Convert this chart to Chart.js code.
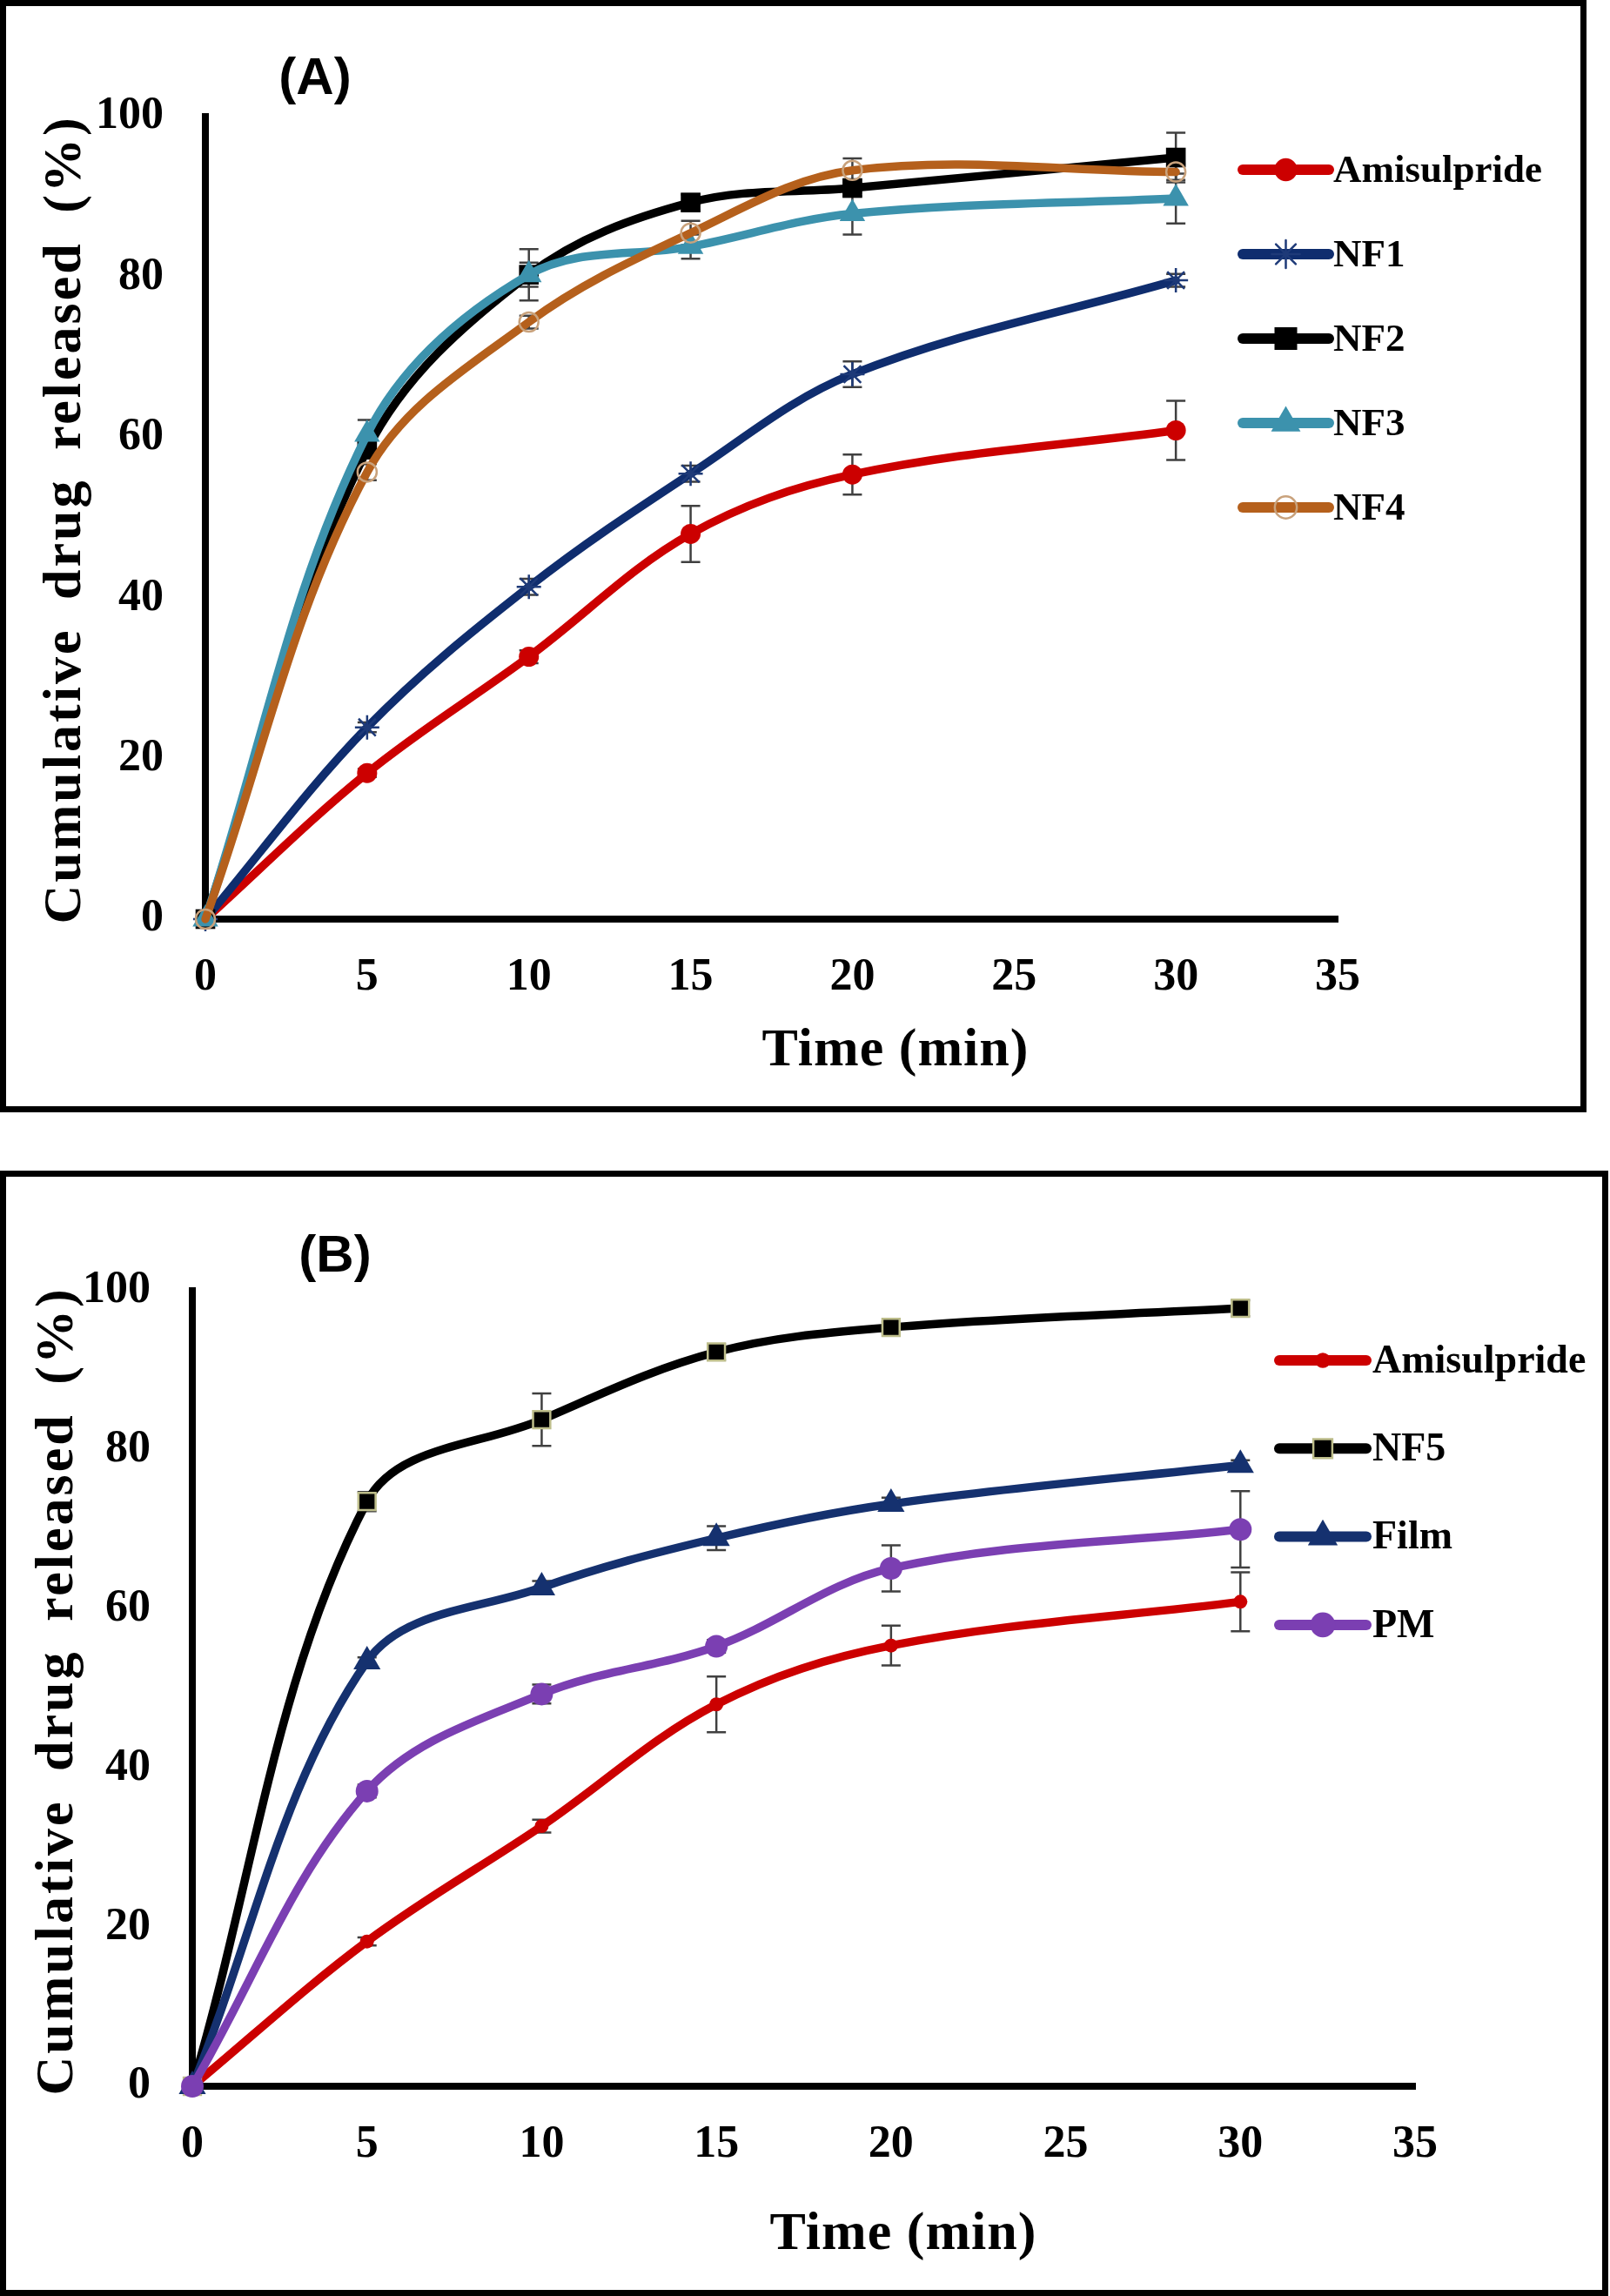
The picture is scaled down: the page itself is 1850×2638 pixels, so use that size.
<!DOCTYPE html>
<html>
<head>
<meta charset="utf-8">
<title>Cumulative drug release</title>
<script src="https://cdn.jsdelivr.net/npm/chart.js@4.4.1/dist/chart.umd.min.js"></script>
<style>
  body { margin: 0; background: #fff; width: 1850px; height: 2638px; position: relative; overflow: hidden; }
  .panel { position: absolute; border: 7px solid #000; box-sizing: border-box; z-index: 2; pointer-events: none; }
  .holder { position: absolute; left: 0; }
</style>
</head>
<body>
<div class="holder" style="top:0"><canvas id="chart-a" width="1830" height="1280"></canvas></div>
<div class="holder" style="top:1345px"><canvas id="chart-b" width="1850" height="1293"></canvas></div>
<div class="panel" style="left:0;top:0;width:1823px;height:1278px"></div>
<div class="panel" style="left:0;top:1345px;width:1848px;height:1293px"></div>
<script>
// ---- data ----
const timePoints = [0, 5, 10, 15, 20, 30];
const xTicks = [0, 5, 10, 15, 20, 25, 30, 35];
const yTicks = [0, 20, 40, 60, 80, 100];

// panel A
const amisulpride    = [0, 18.2, 32.7, 48.0, 55.4, 60.9];
const amisulprideErr = [0, 0.5, 0.8, 3.5, 2.5, 3.7];
const nf1    = [0, 23.9, 41.4, 55.5, 67.9, 79.6];
const nf1Err = [0, 0.6, 1.0, 1.0, 1.6, 0.8];
const nf2    = [0, 58.5, 80.3, 89.3, 91.1, 94.9];
const nf2Err = [0, 1.0, 1.5, 1.0, 1.0, 3.1];
const nf3    = [0, 60.4, 80.3, 83.8, 87.9, 89.8];
const nf3Err = [0, 1.8, 3.2, 1.5, 2.6, 3.1];
const nf4    = [0, 55.7, 74.4, 85.5, 93.3, 93.1];
const nf4Err = [0, 1.0, 0.8, 1.5, 1.5, 1.0];

// panel B
const nf5     = [0, 73.5, 83.8, 92.3, 95.4, 97.8];
const nf5Err  = [0, 1.2, 3.3, 1.0, 0.7, 1.0];
const film    = [0, 53.4, 62.7, 68.9, 73.2, 78.1];
const filmErr = [0, 0.5, 0.8, 1.5, 0.8, 0.6];
const pm      = [0, 37.1, 49.3, 55.3, 65.1, 70.0];
const pmErr   = [0, 0.8, 1.2, 0.8, 2.9, 4.8];

const xTitle = 'Time (min)';
const yTitle = 'Cumulative drug released (%)';

const SERIF = '"Liberation Serif", "Times New Roman", serif';

const points = (ys) => timePoints.map((t, i) => ({ x: t, y: ys[i] }));

function series(label, ys, errs, color, marker) {
  return Object.assign({
    label,
    data: points(ys),
    errors: errs,
    borderColor: color,
    borderWidth: 9.5,
    borderCapStyle: 'round',
    borderJoinStyle: 'round',
    tension: 0.35,
    fill: false,
    clip: false,
    pointBackgroundColor: color,
    pointBorderColor: color,
    pointBorderWidth: 0,
    pointHoverRadius: 0,
  }, marker);
}

// error bars drawn under the series, through the chart scales
const errorBars = {
  id: 'errorBars',
  beforeDatasetsDraw(chart, args, opts) {
    const { ctx, scales: { x, y } } = chart;
    ctx.save();
    ctx.strokeStyle = opts.color;
    ctx.lineWidth = opts.width;
    chart.data.datasets.forEach((ds) => {
      if (!ds.errors) return;
      ds.data.forEach((p, j) => {
        const e = ds.errors[j];
        if (!e) return;
        const px = x.getPixelForValue(p.x);
        const top = y.getPixelForValue(p.y + e);
        const bot = y.getPixelForValue(p.y - e);
        ctx.beginPath();
        ctx.moveTo(px, top); ctx.lineTo(px, bot);
        ctx.moveTo(px - opts.cap, top); ctx.lineTo(px + opts.cap, top);
        ctx.moveTo(px - opts.cap, bot); ctx.lineTo(px + opts.cap, bot);
        ctx.stroke();
      });
    });
    ctx.restore();
  }
};

// Excel-style legend: line sample with marker, then the label
const sideLegend = {
  id: 'sideLegend',
  afterDraw(chart, args, opts) {
    const ctx = chart.ctx;
    chart.data.datasets.forEach((ds, i) => {
      const yy = opts.top + i * opts.gap;
      ctx.save();
      ctx.strokeStyle = ds.borderColor;
      ctx.lineWidth = opts.lineWidth;
      ctx.lineCap = 'round';
      ctx.beginPath();
      ctx.moveTo(opts.x1, yy);
      ctx.lineTo(opts.x2, yy);
      ctx.stroke();
      ctx.fillStyle = ds.pointBackgroundColor;
      ctx.strokeStyle = ds.pointBorderColor;
      ctx.lineWidth = ds.pointBorderWidth;
      Chart.helpers.drawPoint(ctx, {
        pointStyle: ds.pointStyle,
        radius: ds.pointRadius * opts.markerScale,
        rotation: 0,
        borderWidth: ds.pointBorderWidth
      }, (opts.x1 + opts.x2) / 2, yy);
      ctx.fillStyle = '#000';
      ctx.font = `bold ${opts.fontSize}px ${SERIF}`;
      ctx.textAlign = 'left';
      ctx.textBaseline = 'middle';
      ctx.fillText(ds.label, opts.textX, yy + 2);
      ctx.restore();
    });
  }
};

// panel tag and axis titles
const decor = {
  id: 'decor',
  afterDraw(chart, args, opts) {
    const ctx = chart.ctx;
    ctx.save();
    ctx.fillStyle = '#000';
    ctx.textAlign = 'center';
    ctx.textBaseline = 'middle';
    ctx.font = 'bold 60px "Liberation Sans", Arial, sans-serif';
    ctx.fillText(opts.tag, opts.tagX, opts.tagY);
    ctx.font = `bold 62px ${SERIF}`;
    ctx.letterSpacing = '1px';
    ctx.fillText(xTitle, opts.xTitleX, opts.xTitleY);
    ctx.translate(opts.yTitleX, opts.yTitleY);
    ctx.rotate(-Math.PI / 2);
    ctx.letterSpacing = '3px';
    ctx.wordSpacing = '14px';
    ctx.fillText(yTitle, 0, 0);
    ctx.restore();
  }
};

function axisOptions(area, canvasH) {
  const tickFont = { family: SERIF, size: 52, weight: 'bold' };
  return {
    x: {
      type: 'linear',
      min: 0, max: 35,
      afterBuildTicks: (axis) => { axis.ticks = xTicks.map(v => ({ value: v })); },
      afterFit: (axis) => { axis.height = canvasH - area.bottom; },
      grid: { display: false, drawTicks: false },
      border: { display: true, color: '#000', width: 8 },
      ticks: { color: '#000', font: tickFont, padding: 36, maxRotation: 0 }
    },
    y: {
      type: 'linear',
      min: 0, max: 100,
      afterBuildTicks: (axis) => { axis.ticks = yTicks.map(v => ({ value: v })); },
      afterFit: (axis) => { axis.width = area.left; },
      grid: { display: false, drawTicks: false },
      border: { display: true, color: '#000', width: 8 },
      ticks: { color: '#000', font: tickFont, padding: 48 }
    }
  };
}

function renderPanel(canvasId, datasets, cfg) {
  const canvas = document.getElementById(canvasId);
  datasets.forEach((ds, i) => { ds.order = -i; });
  return new Chart(canvas.getContext('2d'), {
    type: 'line',
    data: { datasets },
    options: {
      responsive: false,
      animation: false,
      events: [],
      layout: {
        padding: { left: 0, top: cfg.area.top, right: canvas.width - cfg.area.right, bottom: 0 }
      },
      scales: axisOptions(cfg.area, canvas.height),
      plugins: {
        legend: { display: false },
        tooltip: { enabled: false },
        errorBars: { color: '#404040', width: 2.5, cap: 11 },
        sideLegend: cfg.legend,
        decor: cfg.decor
      }
    },
    plugins: [errorBars, sideLegend, decor]
  });
}

renderPanel('chart-a', [
  series('Amisulpride', amisulpride, amisulprideErr, '#CC0000', { pointStyle: 'circle', pointRadius: 11.5 }),
  series('NF1', nf1, nf1Err, '#0F2D6E', { pointStyle: 'star', pointRadius: 14, pointBackgroundColor: 'rgba(0,0,0,0)', pointBorderColor: '#1E3A78', pointBorderWidth: 2.5 }),
  series('NF2', nf2, nf2Err, '#000000', { pointStyle: 'rect', pointRadius: 16 }),
  series('NF3', nf3, nf3Err, '#3C92AD', { pointStyle: 'triangle', pointRadius: 17 }),
  series('NF4', nf4, nf4Err, '#B5601C', { pointStyle: 'circle', pointRadius: 11, pointBackgroundColor: 'rgba(255,255,255,0)', pointBorderColor: '#C9A27C', pointBorderWidth: 2.5 })
], {
  area: { left: 236, right: 1537, top: 134, bottom: 1056 },
  legend: { top: 195, gap: 97, x1: 1428, x2: 1527, textX: 1532, lineWidth: 12, fontSize: 45, markerScale: 1.15 },
  decor: { tag: '(A)', tagX: 362, tagY: 91, xTitleX: 1029, xTitleY: 1208, yTitleX: 76, yTitleY: 597 }
});

renderPanel('chart-b', [
  series('Amisulpride', amisulpride, amisulprideErr, '#CC0000', { pointStyle: 'circle', pointRadius: 8 }),
  series('NF5', nf5, nf5Err, '#000000', { pointStyle: 'rect', pointRadius: 14, pointBorderColor: '#BDBD8A', pointBorderWidth: 2.5 }),
  series('Film', film, filmErr, '#15316F', { pointStyle: 'triangle', pointRadius: 18 }),
  series('PM', pm, pmErr, '#7B3FB2', { pointStyle: 'circle', pointRadius: 13 })
], {
  area: { left: 221, right: 1626, top: 138, bottom: 1052 },
  legend: { top: 218, gap: 101.3, x1: 1470, x2: 1570, textX: 1577, lineWidth: 12, fontSize: 46, markerScale: 1.1 },
  decor: { tag: '(B)', tagX: 385, tagY: 99, xTitleX: 1038, xTitleY: 1223, yTitleX: 67, yTitleY: 598 }
});
</script>
</body>
</html>
